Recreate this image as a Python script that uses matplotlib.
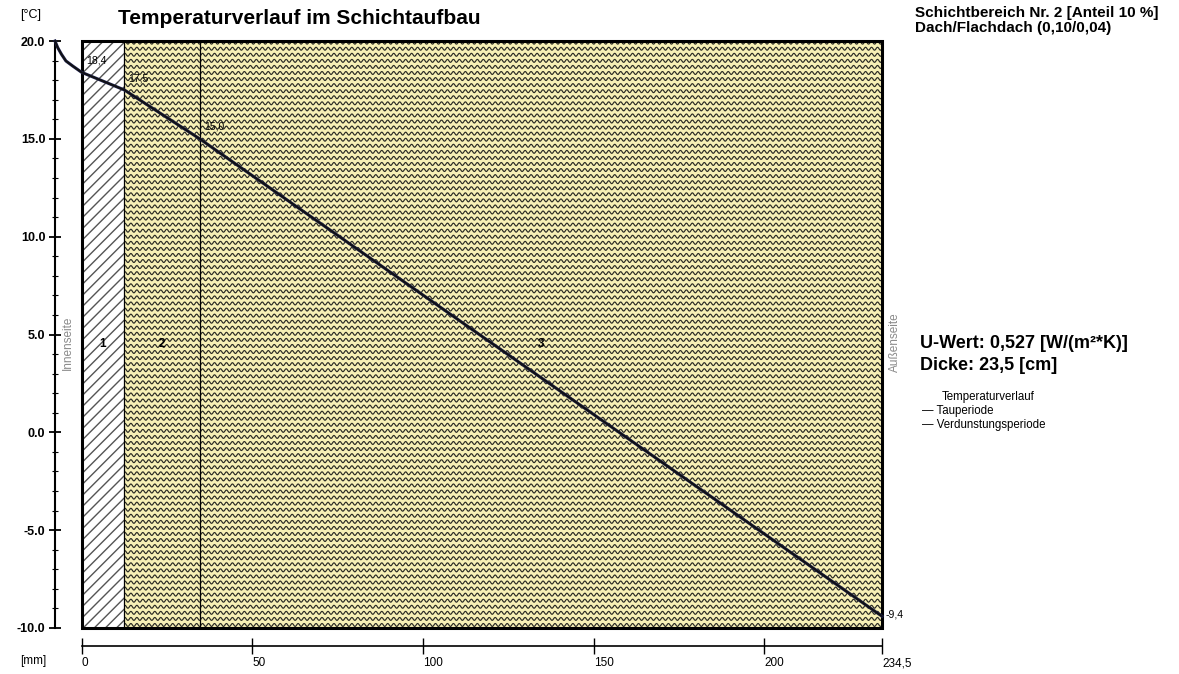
import matplotlib
matplotlib.use("Agg")
import matplotlib.pyplot as plt
import numpy as np
from matplotlib.patches import Rectangle
from matplotlib.collections import LineCollection
from matplotlib.ticker import MultipleLocator, FormatStrFormatter

plt.rcParams["font.family"] = ["Liberation Sans", "DejaVu Sans"]

# --- Daten ---
layer_names = ["1", "2", "3"]
layer_bounds = [0.0, 12.5, 34.6, 234.5]          # mm
bound_temps = [18.4, 17.5, 15.0, -9.4]           # °C an den Schichtgrenzen
bound_labels = ["18,4", "17,5", "15,0", "-9,4"]
# Übergangsbereich innen (Luftschicht vor Schicht 1)
inner_x = [-7.8, -7.0, -5.9, -4.6, -2.6, 0.0]
inner_t = [20.0, 19.66, 19.32, 18.98, 18.72, 18.4]
x_ticks = [0, 50, 100, 150, 200, 234.5]
x_ticklabels = ["0", "50", "100", "150", "200", "234,5"]
y_ticks = [-10, -5, 0, 5, 10, 15, 20]

W, H = 1179, 674
fig = plt.figure(figsize=(W / 100, H / 100), dpi=100)
ax = fig.add_axes([55 / W, 46 / H, (882 - 55) / W, (628 - 41) / H])
ax.set_xlim(inner_x[0], layer_bounds[-1])
ax.set_ylim(-10, 20)

y0, y1 = -10, 20

# Schichten
def wave_fill(x0, x1, clip):
    period, dy, amp = 1.75, 0.31, 0.075
    xs = np.arange(x0 - period, x1 + period, period / 12)
    segs = [np.column_stack([xs, yc + amp * np.sin(2 * np.pi * xs / period)])
            for yc in np.arange(y0 + dy / 2, y1, dy)]
    lc = LineCollection(segs, colors="#2a2a24", linewidths=0.85, zorder=2)
    ax.add_collection(lc)
    lc.set_clip_path(clip)

for i, name in enumerate(layer_names):
    xa, xb = layer_bounds[i], layer_bounds[i + 1]
    if i == 0:
        r = Rectangle((xa, y0), xb - xa, y1 - y0, facecolor="white",
                      edgecolor="#555555", lw=0, hatch="///", zorder=1)
        ax.add_patch(r)
    else:
        r = Rectangle((xa, y0), xb - xa, y1 - y0, facecolor="#f7f0b6",
                      lw=0, zorder=1)
        ax.add_patch(r)
        wave_fill(xa, xb, r)
    ax.text((xa + xb) / 2, 4.5, name, ha="center", va="center",
            fontsize=8.5, fontweight="bold", zorder=5)

for xb in layer_bounds[1:-1]:
    ax.axvline(xb, color="black", lw=0.9, zorder=3)
ax.add_patch(Rectangle((0, y0), layer_bounds[-1], y1 - y0, fill=False,
                       lw=2.2, ec="black", zorder=4, clip_on=False))

# Temperaturverlauf
tx = inner_x + layer_bounds[1:]
tt = inner_t + bound_temps[1:]
ax.plot(tx, tt, color="#1c1f4a", lw=2.2, zorder=6, clip_on=False)
ax.plot(tx, tt, color="#111111", lw=1.2, zorder=7, clip_on=False)

offs = [(1.2, 0.35), (1.2, 0.35), (1.2, 0.35), (1.0, 0.1)]
for xb, lab, (dx, dy) in zip(layer_bounds, bound_labels, offs):
    ax.text(xb + dx, np.interp(xb, tx, tt) + dy, lab, fontsize=7.5,
            ha="left", va="bottom" if dy > 0.2 else "center", zorder=8)

ax.text(-3.9, 4.6, "Innenseite", rotation=90, ha="center", va="center",
        fontsize=8.5, color="#8a8a8a")
ax.text(236.5, 4.6, "Außenseite", rotation=90, ha="left", va="center",
        fontsize=8.5, color="#8a8a8a", clip_on=False)

# Achsen
for s in ("top", "right"):
    ax.spines[s].set_visible(False)
ax.spines["left"].set_linewidth(1.5)
ax.spines["bottom"].set_position(("outward", 13))
ax.spines["bottom"].set_bounds(0, layer_bounds[-1])
ax.spines["bottom"].set_linewidth(1.2)

ax.set_yticks(y_ticks)
ax.yaxis.set_minor_locator(MultipleLocator(1))
ax.yaxis.set_major_formatter(FormatStrFormatter("%.1f"))
ax.tick_params(axis="y", which="major", direction="inout", length=8, width=1.3,
               labelsize=9, pad=3)
ax.tick_params(axis="y", which="minor", direction="inout", length=5, width=0.8)
for lbl in ax.get_yticklabels():
    lbl.set_fontweight("bold")

ax.set_xticks(x_ticks)
ax.set_xticklabels(x_ticklabels)
ax.tick_params(axis="x", direction="inout", length=12, width=1.0,
               labelsize=8.5, pad=2)
for lbl in ax.get_xticklabels():
    lbl.set_ha("left")

# Texte
fig.text(20 / W, 1 - 15 / H, "[°C]", fontsize=9, ha="left", va="center")
fig.text(20 / W, 1 - 661 / H, "[mm]", fontsize=8.5, ha="left", va="center")
fig.text(118 / W, 1 - 18 / H, "Temperaturverlauf im Schichtaufbau",
         fontsize=15, fontweight="bold", ha="left", va="center")
fig.text(915 / W, 1 - 13 / H, "Schichtbereich Nr. 2 [Anteil 10 %]",
         fontsize=11, fontweight="bold", ha="left", va="center")
fig.text(915 / W, 1 - 28 / H, "Dach/Flachdach (0,10/0,04)",
         fontsize=11, fontweight="bold", ha="left", va="center")
fig.text(920 / W, 1 - 343 / H, "U-Wert: 0,527 [W/(m²*K)]",
         fontsize=13, fontweight="bold", ha="left", va="center")
fig.text(920 / W, 1 - 366 / H, "Dicke: 23,5 [cm]",
         fontsize=13, fontweight="bold", ha="left", va="center")
fig.text(942 / W, 1 - 397 / H, "Temperaturverlauf", fontsize=8.3,
         ha="left", va="center")
fig.text(922 / W, 1 - 411 / H, "— Tauperiode", fontsize=8.3,
         ha="left", va="center")
fig.text(922 / W, 1 - 425 / H, "— Verdunstungsperiode", fontsize=8.3,
         ha="left", va="center")

fig.savefig("out.png", dpi=100)
